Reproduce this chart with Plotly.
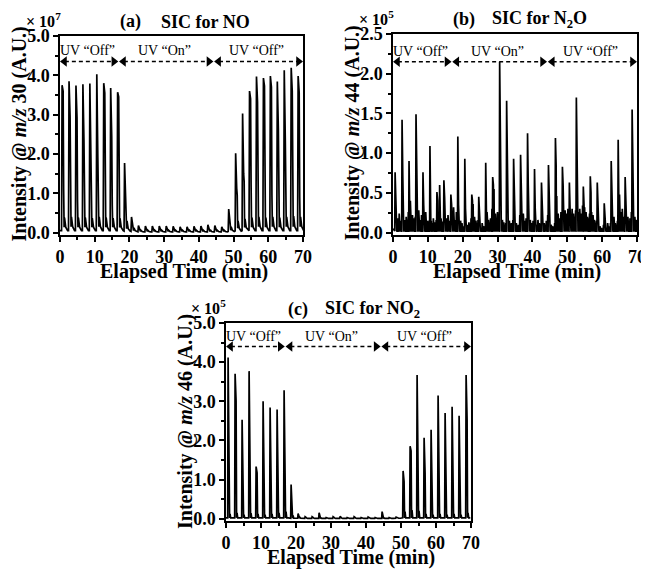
import plotly.graph_objects as go

# ---------------- data ----------------
pulse_t = [0.6, 2.6, 4.6, 6.6, 8.6, 10.6, 12.6, 14.6, 16.6, 18.6, 20.6, 22.6,
           24.6, 26.6, 28.6, 30.6, 32.6, 34.6, 36.6, 38.6, 40.6, 42.6, 44.6,
           46.6, 48.6, 50.6, 52.6, 54.6, 56.6, 58.6, 60.6, 62.6, 64.6, 66.6, 68.6]

# (a) NO, m/z 30, x 1e7
no_peak = [3.75, 3.85, 3.74, 3.77, 3.79, 4.03, 3.80, 3.68, 3.57, 1.77, 0.40,
           0.18, 0.17, 0.17, 0.17, 0.17, 0.16, 0.15, 0.15, 0.16, 0.17, 0.20, 0.18, 0.15,
           0.60, 2.02, 3.03, 3.60, 3.97, 3.93, 3.98, 3.84, 4.13, 4.19, 3.98]
no_second = [3.60, 2.95, 2.93, 2.35, 1.95, 1.90, 3.55, 2.45, 3.45, 1.05, 0.25,
             0.10, 0.10, 0.10, 0.10, 0.10, 0.09, 0.09, 0.09, 0.09, 0.10, 0.12, 0.11, 0.09,
             0.40, 1.13, 1.50, 3.40, 3.32, 3.73, 3.70, 2.64, 2.35, 3.60, 3.56]
no_third = [1.10, 0.85, 0.80, 0.80, 0.75, 0.85, 0.80, 0.70, 0.65, 0.35, 0.10,
            0.06, 0.06, 0.06, 0.06, 0.06, 0.05, 0.05, 0.05, 0.05, 0.06, 0.07, 0.06, 0.05,
            0.20, 0.95, 1.30, 1.20, 1.10, 1.00, 0.95, 0.90, 0.85, 0.95, 0.90]
no_bump = [0.38, 0.40, 0.38, 0.38, 0.37, 0.40, 0.38, 0.37, 0.36, 0.30, 0.12,
           0.06, 0.06, 0.06, 0.06, 0.06, 0.06, 0.06, 0.06, 0.06, 0.06, 0.07, 0.06, 0.06,
           0.15, 0.30, 0.35, 0.38, 0.40, 0.38, 0.40, 0.38, 0.40, 0.42, 0.40]
no_tail = [0.14, 0.15, 0.14, 0.14, 0.14, 0.15, 0.14, 0.14, 0.13, 0.10, 0.05,
           0.03, 0.03, 0.03, 0.03, 0.03, 0.03, 0.03, 0.03, 0.03, 0.03, 0.03, 0.03, 0.03,
           0.06, 0.11, 0.13, 0.14, 0.15, 0.14, 0.15, 0.14, 0.15, 0.15, 0.15]
no_floor = [0.05, 0.05, 0.05, 0.05, 0.05, 0.05, 0.05, 0.05, 0.05, 0.04, 0.03,
            0.02, 0.02, 0.02, 0.02, 0.02, 0.02, 0.02, 0.02, 0.02, 0.02, 0.02, 0.02, 0.02,
            0.03, 0.04, 0.05, 0.05, 0.05, 0.05, 0.05, 0.05, 0.05, 0.05, 0.05]

# (b) N2O, m/z 44, x 1e5
n2o_peak = [0.76, 1.42, 0.90, 1.49, 0.76, 1.09, 0.51, 0.66, 0.48, 1.21, 0.93,
            0.48, 0.45, 0.88, 0.70, 2.15, 1.66, 0.93, 0.98, 1.25, 0.80, 0.63,
            0.85, 1.19, 0.83, 0.63, 1.70, 0.58, 0.71, 0.63, 0.37, 0.90, 1.17, 0.70, 1.55]
n2o_second = [0.35, 0.73, 0.44, 0.71, 0.35, 0.25, 0.40, 0.45, 0.36, 0.35, 0.30,
              0.40, 0.20, 0.50, 0.60, 1.04, 0.50, 0.45, 0.35, 0.60, 0.30, 0.25,
              0.30, 0.85, 0.60, 0.30, 0.50, 0.35, 0.50, 0.30, 0.20, 0.25, 0.53, 0.40, 0.57]
n2o_noise = [
    [0.12, 0.04, 0.18, 0.08, 0.24, 0.06, 0.15, 0.10],
    [0.26, 0.10, 0.16, 0.04, 0.20, 0.12, 0.07, 0.26],
    [0.40, 0.15, 0.10, 0.22, 0.06, 0.18, 0.12, 0.20],
    [0.30, 0.08, 0.28, 0.12, 0.16, 0.05, 0.22, 0.15],
    [0.20, 0.06, 0.26, 0.10, 0.04, 0.15, 0.08, 0.12],
    [0.15, 0.04, 0.12, 0.18, 0.06, 0.13, 0.08, 0.16],
    [0.18, 0.08, 0.60, 0.12, 0.18, 0.06, 0.14, 0.10],
    [0.26, 0.10, 0.18, 0.05, 0.22, 0.12, 0.15, 0.08],
    [0.25, 0.12, 0.32, 0.08, 0.16, 0.06, 0.26, 0.12],
    [0.10, 0.04, 0.15, 0.06, 0.12, 0.03, 0.08, 0.05],
    [0.16, 0.06, 0.10, 0.04, 0.13, 0.08, 0.05, 0.18],
    [0.36, 0.12, 0.20, 0.06, 0.15, 0.04, 0.10, 0.16],
    [0.08, 0.03, 0.06, 0.12, 0.04, 0.08, 0.02, 0.06],
    [0.26, 0.10, 0.16, 0.05, 0.12, 0.18, 0.06, 0.30],
    [0.55, 0.15, 0.24, 0.08, 0.18, 0.26, 0.10, 0.20],
    [0.28, 0.10, 0.16, 0.06, 0.13, 0.04, 0.08, 0.12],
    [0.22, 0.06, 0.15, 0.10, 0.04, 0.12, 0.08, 0.16],
    [0.16, 0.05, 0.12, 0.08, 0.03, 0.10, 0.06, 0.22],
    [0.32, 0.12, 0.24, 0.05, 0.15, 0.08, 0.18, 0.10],
    [0.26, 0.08, 0.16, 0.04, 0.12, 0.06, 0.15, 0.08],
    [0.12, 0.04, 0.10, 0.16, 0.06, 0.12, 0.03, 0.08],
    [0.18, 0.06, 0.12, 0.04, 0.10, 0.15, 0.05, 0.22],
    [0.15, 0.05, 0.10, 0.03, 0.08, 0.04, 0.06, 0.12],
    [0.46, 0.16, 0.24, 0.08, 0.18, 0.12, 0.26, 0.13],
    [0.40, 0.20, 0.28, 0.10, 0.24, 0.15, 0.30, 0.18],
    [0.26, 0.12, 0.30, 0.16, 0.24, 0.10, 0.20, 0.28],
    [0.45, 0.26, 0.20, 0.30, 0.12, 0.24, 0.16, 0.34],
    [0.32, 0.15, 0.26, 0.08, 0.20, 0.12, 0.18, 0.24],
    [0.26, 0.10, 0.22, 0.06, 0.16, 0.12, 0.08, 0.15],
    [0.12, 0.04, 0.08, 0.02, 0.06, 0.03, 0.05, 0.10],
    [0.10, 0.03, 0.06, 0.12, 0.04, 0.08, 0.02, 0.12],
    [0.16, 0.06, 0.20, 0.08, 0.12, 0.04, 0.10, 0.15],
    [0.48, 0.18, 0.26, 0.10, 0.30, 0.12, 0.20, 0.16],
    [0.32, 0.08, 0.20, 0.12, 0.06, 0.18, 0.10, 0.26],
    [0.40, 0.12, 0.20, 0.08, 0.16, 0.06, 0.12, 0.08],
]
n2o_dip = 0.01

# (c) NO2, m/z 46, x 1e5
no2_peak = [4.12, 3.70, 2.53, 3.77, 1.33, 3.00, 2.84, 2.79, 3.28, 0.87, 0.13,
            0.05, 0.05, 0.15, 0.03, 0.05, 0.06, 0.03, 0.05, 0.03, 0.04, 0.03, 0.18, 0.03,
            0.04, 1.22, 1.85, 3.67, 2.07, 2.27, 3.15, 2.70, 2.86, 2.63, 3.67]
no2_second = [0.28, 3.01, 0.70, 0.87, 1.17, 0.70, 0.58, 0.47, 0.20, 0.37, 0.05,
              0.02, 0.02, 0.03, 0.02, 0.02, 0.02, 0.02, 0.02, 0.02, 0.02, 0.02, 0.04, 0.02,
              0.02, 0.95, 1.73, 1.27, 1.17, 0.62, 0.87, 0.70, 0.58, 0.64, 2.55]
no2_side = [0.12, 0.15, 0.10, 0.14, 0.12, 0.10, 0.12, 0.15, 0.18, 0.08, 0.03,
            0.01, 0.01, 0.02, 0.01, 0.01, 0.01, 0.01, 0.01, 0.01, 0.01, 0.01, 0.02, 0.01,
            0.02, 0.18, 0.22, 0.20, 0.12, 0.10, 0.12, 0.10, 0.12, 0.10, 0.15]
no2_floor = [0.02, 0.02, 0.02, 0.02, 0.02, 0.02, 0.02, 0.02, 0.02, 0.01, 0.01,
             0.005, 0.005, 0.005, 0.005, 0.005, 0.005, 0.005, 0.005, 0.005, 0.005, 0.005, 0.005, 0.005,
             0.01, 0.02, 0.02, 0.02, 0.02, 0.02, 0.02, 0.02, 0.02, 0.02, 0.02]

# UV phases (min)
uv_phases = [(0.2, 16.6, "UV \u201cOff\u201d"), (17.2, 44.0, "UV \u201cOn\u201d"), (44.6, 69.8, "UV \u201cOff\u201d")]
x_ticks = [0, 10, 20, 30, 40, 50, 60, 70]

# ---------------- build series ----------------
def expand(times, offsets, columns):
    xs, ys = [], []
    for i, t in enumerate(times):
        for off, col in zip(offsets, columns):
            xs.append(t + off)
            ys.append(col[i])
    return xs, ys

no_x, no_y = expand(pulse_t, [-0.15, 0.0, 0.3, 0.45, 0.58, 0.7, 1.05, 1.6],
                    [no_floor, no_peak, no_second, no_third, no_tail, no_bump, no_tail, no_floor])
no_x = [0.0] + no_x
no_y = [no_floor[0]] + no_y

n2o_x, n2o_y = [0.0], [0.05]
for i, t in enumerate(pulse_t):
    n2o_x += [t - 0.1, t, t + 0.2, t + 0.28]
    n2o_y += [0.02, n2o_peak[i], n2o_second[i], n2o_dip]
    for j, v in enumerate(n2o_noise[i]):
        n2o_x += [t + 0.38 + 0.2 * j, t + 0.48 + 0.2 * j]
        n2o_y += [v, n2o_dip]

no2_x, no2_y = expand(pulse_t, [-0.12, 0.0, 0.28, 0.42, 0.55, 0.75, 1.2],
                      [no2_floor, no2_peak, no2_second, no2_floor, no2_side, no2_floor, no2_floor])
no2_x = [0.0] + no2_x
no2_y = [no2_floor[0]] + no2_y

# ---------------- figure ----------------
OX, OY = 8, 8            # page body margin of the browser
W, H = 641, 561
FONT = "Liberation Serif"
fig = go.Figure()

panels = [
    dict(xa="x", ya="y", x=no_x, y=no_y, yr=5.0, dtick=1.0, minor=0.5,
         xdom=[60, 303], ydom=[36, 235], arrow=0.87, label=0.925,
         mz="30", exp="7", tag="(a)", name="SIC for NO"),
    dict(xa="x2", ya="y2", x=n2o_x, y=n2o_y, yr=2.5, dtick=0.5, minor=0.25,
         xdom=[393, 637], ydom=[34, 235], arrow=0.86, label=0.91,
         mz="44", exp="5", tag="(b)", name="SIC for N<sub>2</sub>O"),
    dict(xa="x3", ya="y3", x=no2_x, y=no2_y, yr=5.0, dtick=1.0, minor=0.5,
         xdom=[226, 471], ydom=[323, 521], arrow=0.88, label=0.93,
         mz="46", exp="5", tag="(c)", name="SIC for NO<sub>2</sub>"),
]

def px(x):
    return (x - OX) / W

def py(y):
    return 1 - (y - OY) / H

def ann(x, y, text, size, **kw):
    d = dict(xref="paper", yref="paper", x=px(x), y=py(y), text=text, showarrow=False,
             xanchor="center", yanchor="middle",
             font=dict(family=FONT, size=size, color="black"))
    d.update(kw)
    return d

annotations = []
shapes = []
for k, p in enumerate(panels):
    fig.add_trace(go.Scatter(x=p["x"], y=p["y"], mode="lines",
                             line=dict(color="black", width=1.7),
                             xaxis=p["xa"], yaxis=p["ya"], showlegend=False,
                             hoverinfo="skip"))
    sfx = "" if k == 0 else str(k + 1)
    axis_common = dict(showline=True, linewidth=1.5, linecolor="black", mirror=True,
                       ticks="outside", ticklen=5, tickwidth=1.5, tickcolor="black",
                       showgrid=False, zeroline=False, automargin=False,
                       tickfont=dict(family=FONT, size=18, color="black", weight="bold"))
    fig.update_layout(**{
        "xaxis" + sfx: dict(domain=[px(p["xdom"][0]), px(p["xdom"][1])], anchor="y" + sfx,
                            range=[0, 70], tickvals=x_ticks,
                            minor=dict(dtick=5, ticklen=3, ticks="outside", tickwidth=1.5,
                                       tickcolor="black"),
                            **axis_common),
        "yaxis" + sfx: dict(domain=[py(p["ydom"][1]), py(p["ydom"][0])],
                            anchor="x" + sfx, range=[-0.012 * p["yr"], p["yr"]],
                            dtick=p["dtick"], tickformat=".1f",
                            minor=dict(dtick=p["minor"], ticklen=3, ticks="outside",
                                       tickwidth=1.5, tickcolor="black"),
                            **axis_common),
    })
    # UV phase arrows
    ay = p["arrow"] * p["yr"]
    ly = p["label"] * p["yr"]
    for (a, b, txt) in uv_phases:
        shapes.append(dict(type="line", xref=p["xa"], yref=p["ya"], x0=a + 1.2, x1=b - 1.2,
                           y0=ay, y1=ay, line=dict(color="black", width=1.5, dash="4px,3px")))
        fig.add_trace(go.Scatter(x=[a + 1.1, b - 1.1], y=[ay, ay], mode="markers",
                                 marker=dict(symbol=["triangle-left", "triangle-right"],
                                             size=9, color="black"),
                                 xaxis=p["xa"], yaxis=p["ya"], showlegend=False,
                                 hoverinfo="skip", cliponaxis=False))
        annotations.append(dict(xref=p["xa"], yref=p["ya"], x=(a + b) / 2 - 0.5, y=ly,
                                text=txt, showarrow=False, xanchor="center", yanchor="middle",
                                font=dict(family=FONT, size=14, color="black")))
    x0, x1 = p["xdom"]
    y0, y1 = p["ydom"]
    cx = (x0 + x1) / 2
    annotations.append(ann(cx + 2, y1 + 36, "<b>Elapsed Time (min)</b>", 20))
    annotations.append(ann(x0 - 41, (y0 + y1) / 2 - 1,
                           "<b>Intensity @ <i>m/z</i> " + p["mz"] + " (A.U.)</b>", 20,
                           textangle=-90))
    annotations.append(ann(x0 - 17, y0 - 16, "<b>\u00d7 10<sup>" + p["exp"] + "</sup></b>", 16))
    annotations.append(ann(cx - 51, y0 - 14, "<b>" + p["tag"] + "</b>", 18))
    annotations.append(ann(cx + 24, y0 - 14, "<b>" + p["name"] + "</b>", 18))

fig.update_layout(width=W, height=H, margin=dict(l=0, r=0, t=0, b=0, autoexpand=False),
                  paper_bgcolor="white", plot_bgcolor="white",
                  annotations=annotations, shapes=shapes, showlegend=False)

fig.write_html("out.html")
